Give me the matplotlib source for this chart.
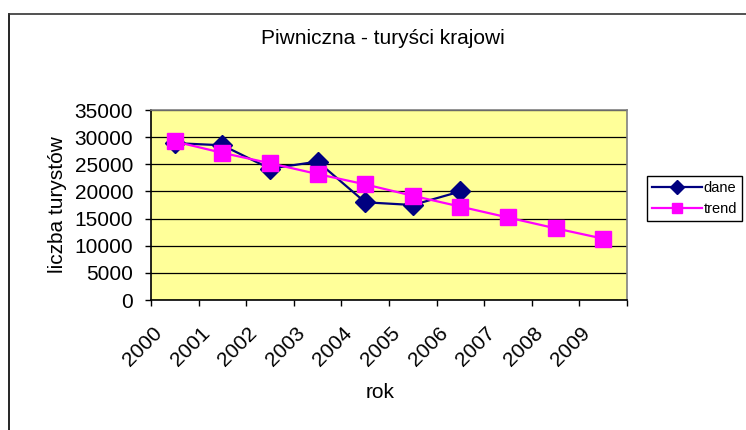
import numpy as np
import matplotlib.pyplot as plt
from matplotlib.lines import Line2D
from matplotlib.ticker import FixedLocator, NullFormatter
import matplotlib.transforms as mtransforms

plt.rcParams['font.family'] = ['Liberation Sans', 'DejaVu Sans']

# dane
lata = ['2000', '2001', '2002', '2003', '2004', '2005', '2006', '2007', '2008', '2009']
dane = [28900, 28500, 24200, 25500, 18000, 17500, 20000]
trend = [29200, 27100, 25200, 23200, 21300, 19200, 17200, 15200, 13200, 11300]

W, H = 746, 430
fig = plt.figure(figsize=(W / 100, H / 100), dpi=100)
ax = fig.add_axes([151 / W, 1 - 300 / H, 476 / W, 190 / H])

# ramka wykresu (górna i lewa krawędź)
fig.add_artist(Line2D([9 / W, 9 / W], [0, 1 - 14 / H], color='black', lw=1.2, transform=fig.transFigure))
fig.add_artist(Line2D([9 / W, 1], [1 - 14 / H, 1 - 14 / H], color='#333333', lw=1.2, transform=fig.transFigure))

ax.set_facecolor('#FFFF99')
for s in ax.spines.values():
    s.set_color('#808080')
    s.set_linewidth(1.2)
ax.spines['left'].set_color('black')
ax.spines['bottom'].set_color('black')

x_d = np.arange(len(dane)) + 0.5
x_t = np.arange(len(trend)) + 0.5

ax.plot(x_d, dane, color='#000080', lw=1.6, marker='D', ms=10,
        label='dane', zorder=3)
ax.plot(x_t, trend, color='#FF00FF', lw=1.6, marker='s', ms=11,
        label='trend', zorder=4)

ax.set_xlim(0, 10)
ax.set_ylim(0, 35000)
ax.set_yticks(np.arange(0, 35001, 5000))
ax.yaxis.grid(True, color='black', lw=0.9)
ax.set_axisbelow(True)

fs = 15
ax.xaxis.set_major_locator(FixedLocator(np.arange(0, 11)))
ax.xaxis.set_major_formatter(NullFormatter())
ax.xaxis.set_minor_locator(FixedLocator(x_t))
ax.set_xticklabels(lata, minor=True, rotation=45, ha='right', va='top')
ax.tick_params(axis='x', which='major', direction='out', length=4, width=1)
ax.tick_params(axis='x', which='minor', length=0, pad=17, labelsize=fs)
ax.tick_params(axis='y', direction='out', length=4.3, width=1, pad=8.6, labelsize=fs)

off = mtransforms.ScaledTranslation(-9 / 100, 0, fig.dpi_scale_trans)
for lab in ax.xaxis.get_minorticklabels():
    lab.set_transform(lab.get_transform() + off)

ax.set_xlabel('rok', fontsize=fs, va='center')
ax.xaxis.set_label_coords(0.481, -0.489)
ax.set_ylabel('liczba turystów', fontsize=fs, va='center')
ax.yaxis.set_label_coords(-0.197, 0.5)

fig.text(383 / W, 1 - 39 / H, 'Piwniczna - turyści krajowi', ha='center', va='center', fontsize=fs)

leg = ax.legend(loc='upper left', bbox_to_anchor=(647 / W, 1 - 176 / H),
                bbox_transform=fig.transFigure, borderaxespad=0, fancybox=False,
                edgecolor='black', framealpha=1, fontsize=10.5, handlelength=3.4,
                handletextpad=0.15, markerscale=0.7, borderpad=0.35, labelspacing=0.45)
leg.get_frame().set_linewidth(1)

fig.savefig('out.png', dpi=100)
